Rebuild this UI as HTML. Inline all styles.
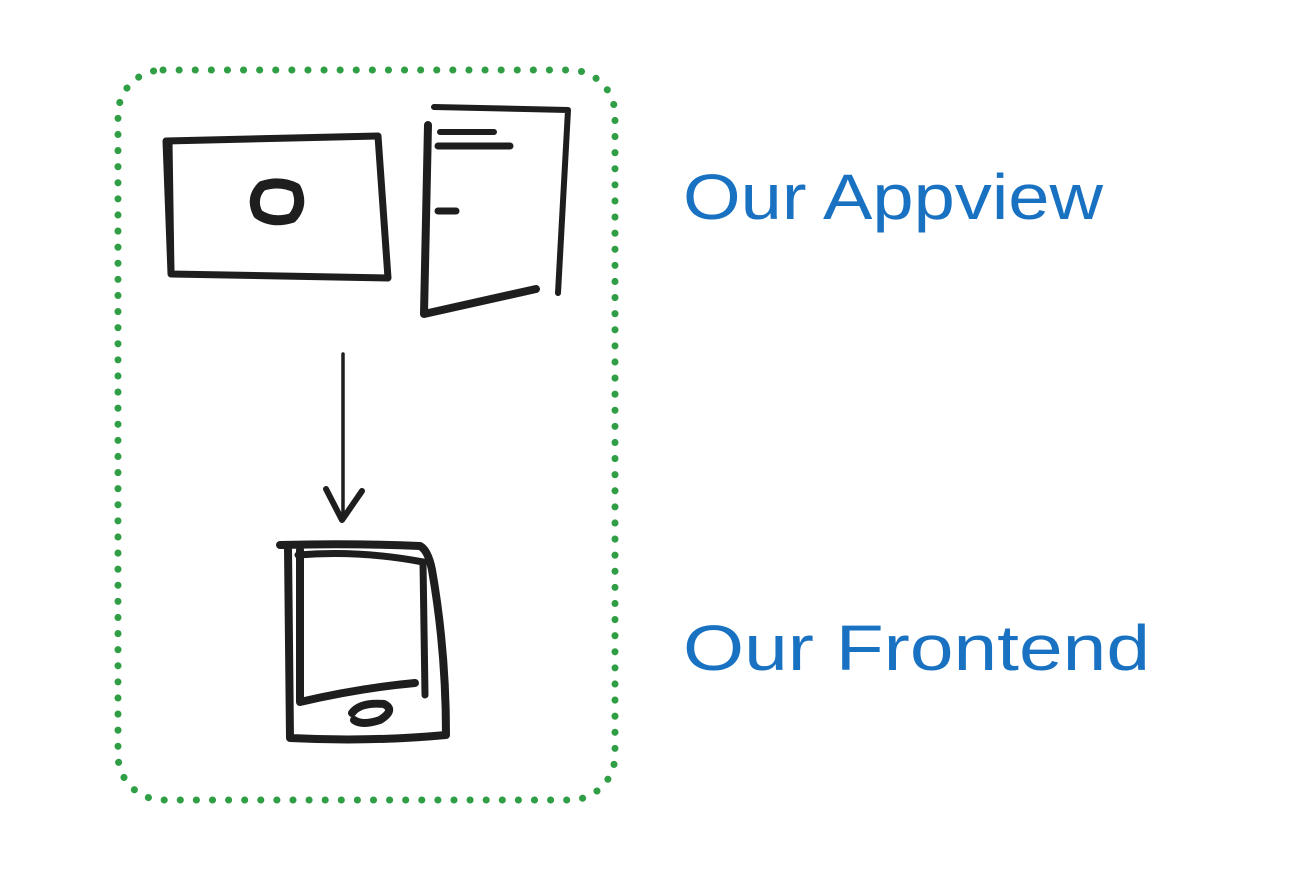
<!DOCTYPE html>
<html><head><meta charset="utf-8"><style>
html,body{margin:0;padding:0;background:#fff;}
</style></head><body>
<svg width="1294" height="876" viewBox="0 0 1294 876" xmlns="http://www.w3.org/2000/svg">
<rect x="118" y="70" width="497" height="730" rx="45" ry="45" fill="none" stroke="#2f9e44" stroke-width="7" stroke-linecap="round" stroke-dasharray="0.1 16"/>
<g fill="none" stroke="#1e1e1e" stroke-linecap="round" stroke-linejoin="round">
<!-- monitor -->
<path d="M166 141 L378 136 L388 278 L171 274 Z" stroke-width="7"/>
<path d="M170 140 L172 274" stroke-width="5"/>
<path d="M262 186 Q280 180 296 188 Q304 205 292 218 Q272 224 258 214 Q250 198 262 186 Z" stroke-width="10"/>
<!-- document -->
<path d="M428 125 L424 314 L536 289" stroke-width="8"/>
<path d="M434 107 L568 110 L558 293" stroke-width="6"/>
<path d="M440 132 L494 132" stroke-width="6"/>
<path d="M438 146 L510 146" stroke-width="7"/>
<path d="M438 211 L456 211" stroke-width="7"/>
<!-- arrow -->
<path d="M343 354 L343 520" stroke-width="3.5"/>
<path d="M326 489 L342 520 L362 491" stroke-width="6"/>
<!-- phone -->
<path d="M280 545 Q350 543 420 546 Q428 550 432 570 Q446 650 446 735 Q370 742 290 738 L288 548" stroke-width="8"/>
<path d="M300 550 L300 702 Q360 688 415 683" stroke-width="8"/>
<path d="M298 555 Q360 550 423 562 L425 695" stroke-width="7"/>
<path d="M352 713 Q360 702 384 704 Q396 710 380 720 Q362 726 354 720" stroke-width="8"/>
</g>
<g font-family="'Liberation Sans', sans-serif" fill="#1971c2" font-size="64">
<text x="683" y="219" textLength="420" lengthAdjust="spacingAndGlyphs">Our Appview</text>
<text x="683" y="670" textLength="467" lengthAdjust="spacingAndGlyphs">Our Frontend</text>
</g>
</svg>
</body></html>
